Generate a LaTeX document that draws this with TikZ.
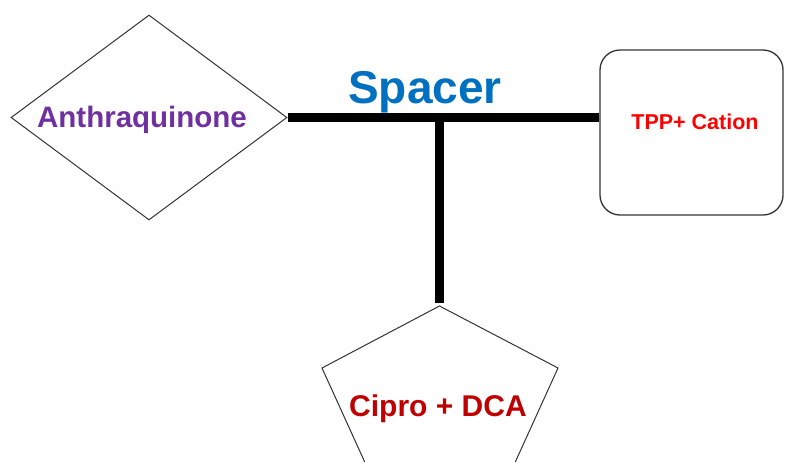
\documentclass[tikz,border=0pt]{standalone}
\usepackage{fontspec}
\setmainfont{Liberation Sans}
\usetikzlibrary{shapes.geometric}
\definecolor{aqpurple}{HTML}{7030A0}
\definecolor{spblue}{HTML}{0070C0}
\definecolor{tppred}{HTML}{FF0000}
\definecolor{ciprored}{HTML}{C00000}
\definecolor{edge}{HTML}{333333}
\tikzset{
  shapeline/.style={draw=edge, line width=1pt},
  bond/.style={draw=black, line width=9.5pt},
  lbl/.style={inner sep=0pt, anchor=base, font=\bfseries},
}
\newcommand{\fsz}[1]{\fontsize{#1}{#1}\selectfont}
\begin{document}
\begin{tikzpicture}[x=1pt, y=-1pt]
  \useasboundingbox (0,0) rectangle (785,461);

  % Anthraquinone diamond
  \node[shapeline, diamond, minimum width=276pt, minimum height=205pt,
        inner sep=0pt] (dia) at (149,117.5) {};
  \node[lbl, text=aqpurple, font=\bfseries\fsz{29.5}] (anthra) at (142,127) {Anthraquinone};

  % TPP+ cation box
  \node[shapeline, line width=1.3pt, rectangle, rounded corners=20pt,
        minimum width=183pt, minimum height=165pt] (tpp) at (691.5,132.5) {};
  \node[lbl, text=tppred, font=\bfseries\fsz{21.5}] (tpptext) at (695,129) {TPP+ Cation};

  % Cipro + DCA pentagon (regular pentagon, squashed vertically)
  \coordinate (apex) at (439.5,306);
  \coordinate (pr) at (558,368);
  \coordinate (pbr) at (513,467);
  \coordinate (pbl) at (367,467);
  \coordinate (pl) at (322,368);
  \begin{scope}
    \clip (0,0) rectangle (785,461);
    \draw[shapeline] (apex) -- (pr) -- (pbr) -- (pbl) -- (pl) -- cycle;
  \end{scope}
  \node[lbl, text=ciprored, font=\bfseries\fsz{30}] (cipro) at (438,416) {Cipro + DCA};

  % Spacer bonds
  \coordinate (junction) at (439.5,117.5);
  \draw[bond] (dia.east) -- (dia.east -| tpp.west);
  \draw[bond] (junction) -- ([yshift=3pt]apex);
  \node[lbl, text=spblue, font=\bfseries\fsz{46}] (spacer) at (425,103) {Spacer};
\end{tikzpicture}
\end{document}
